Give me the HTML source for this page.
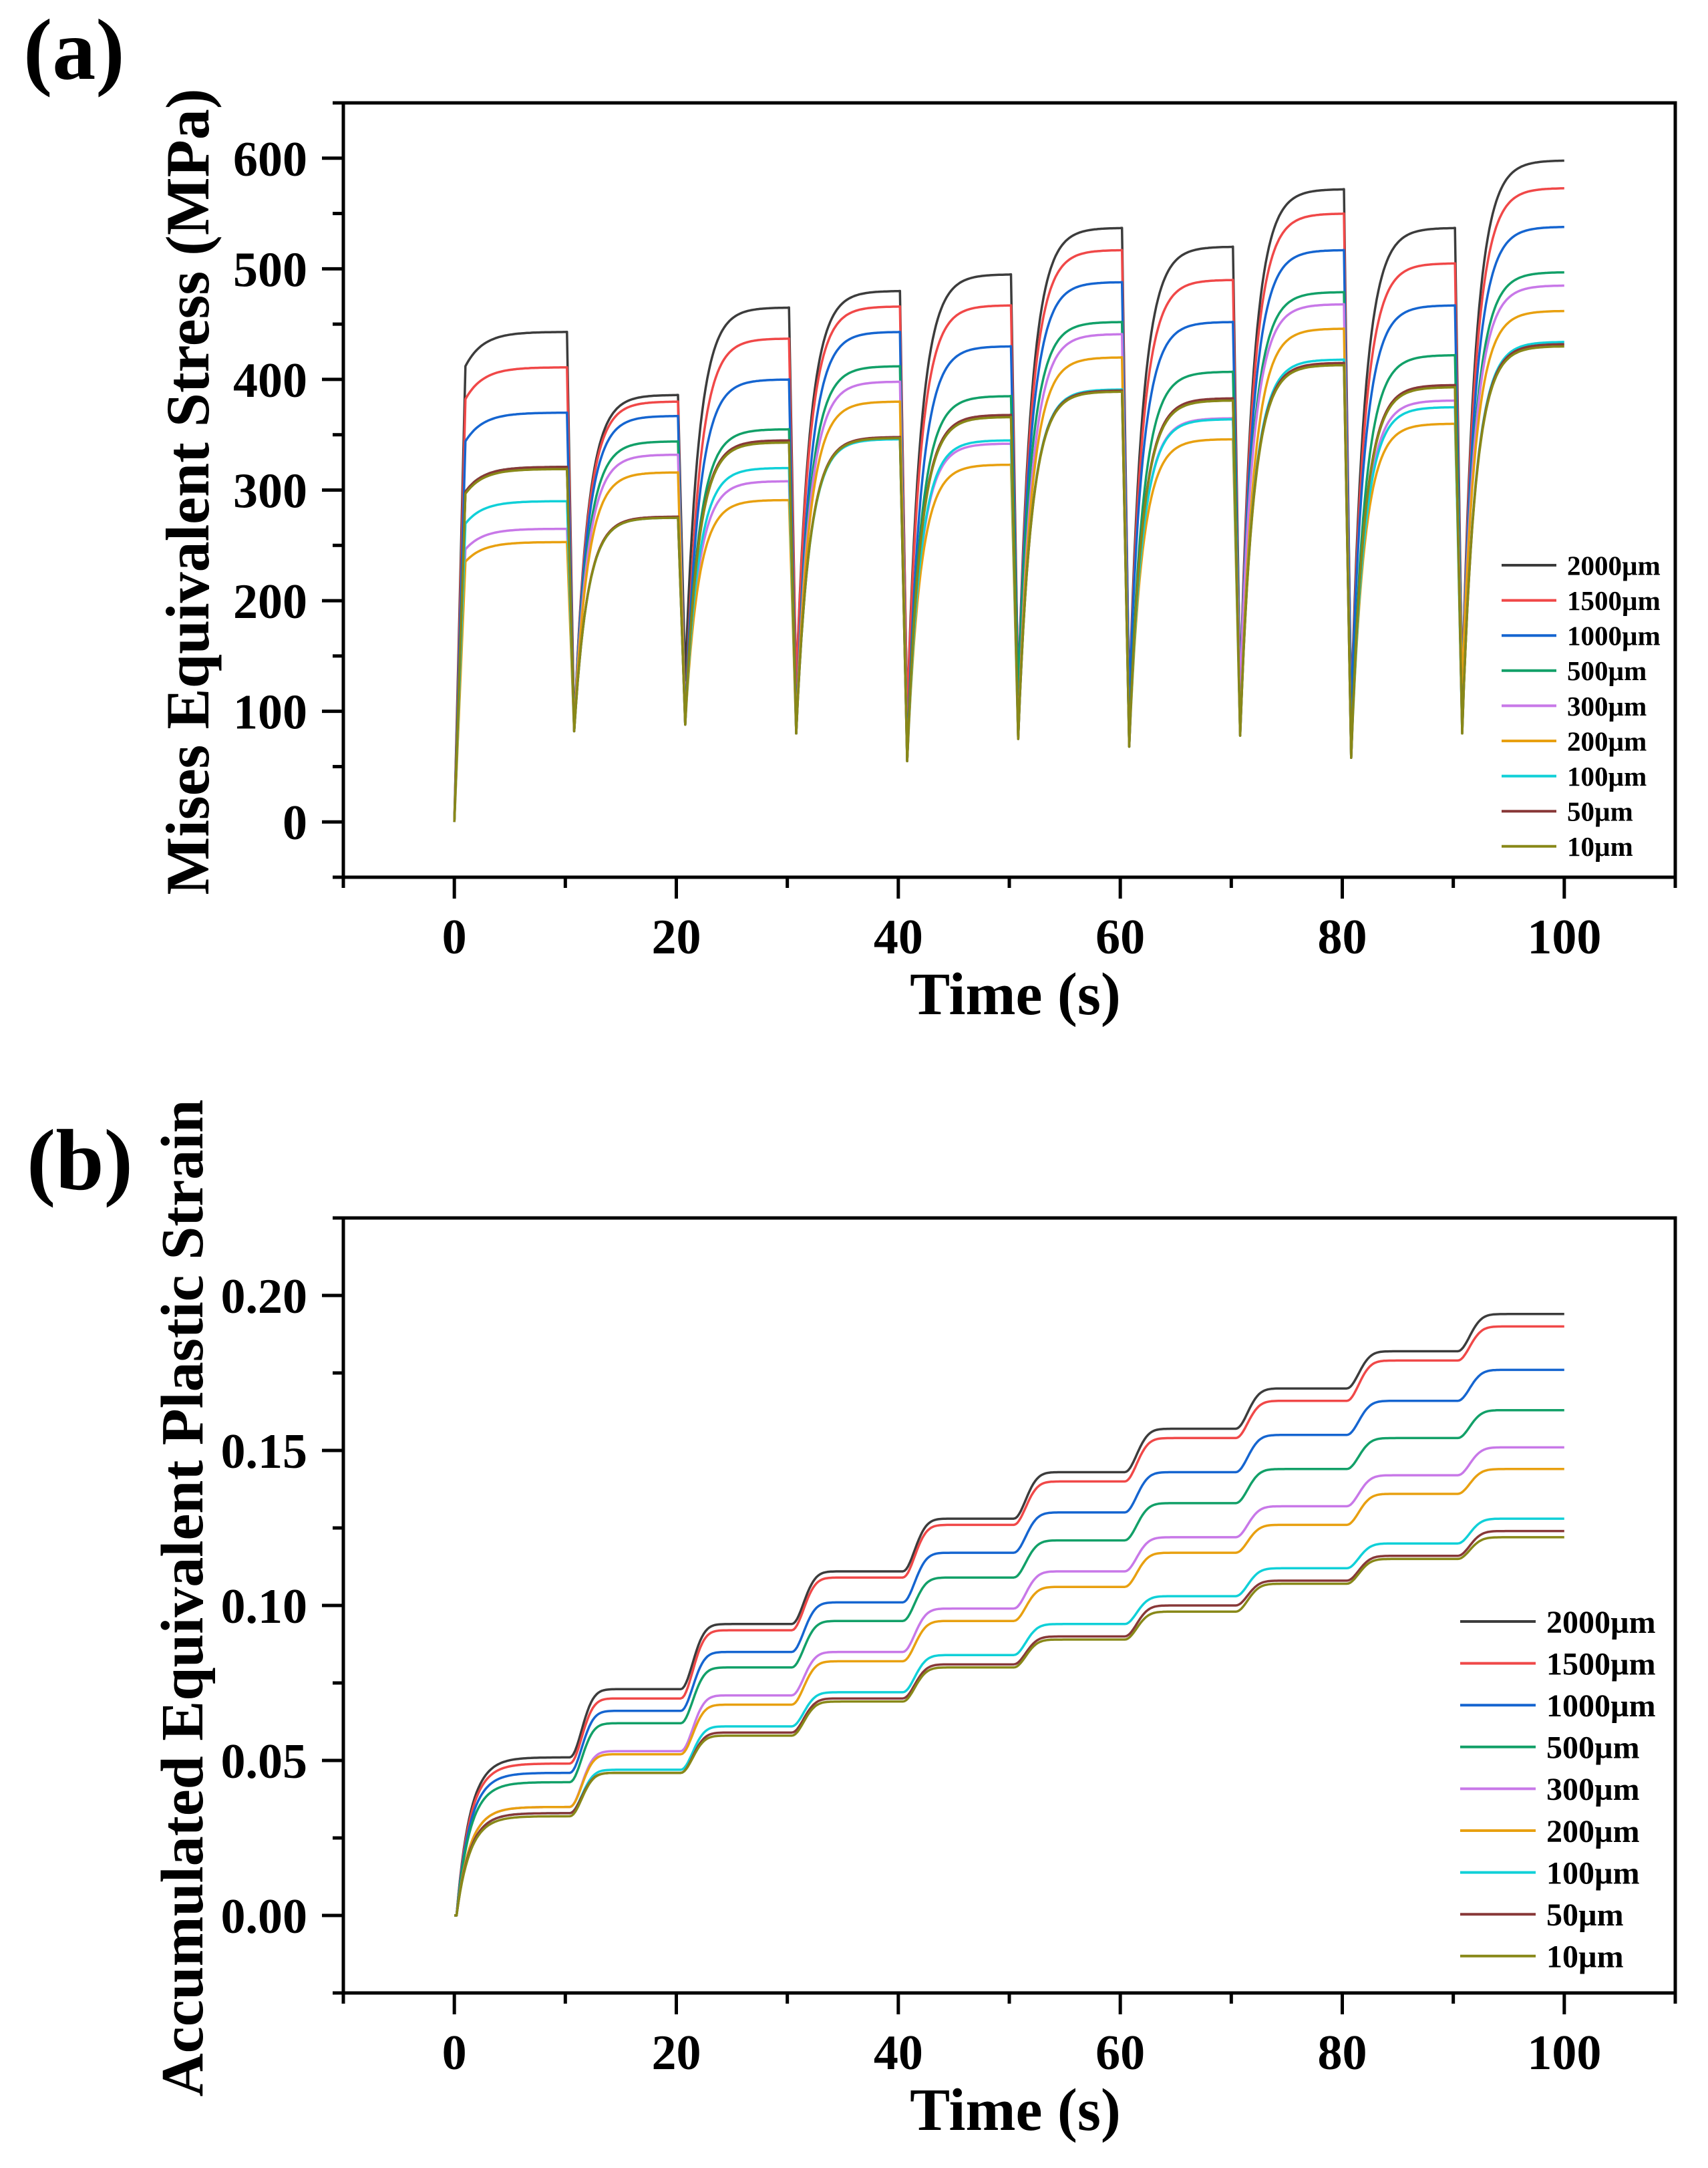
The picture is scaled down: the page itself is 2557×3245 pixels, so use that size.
<!DOCTYPE html>
<html><head><meta charset="utf-8"><style>
html,body{margin:0;padding:0;background:#fff}
svg{display:block}
text{font-family:"Liberation Serif",serif;font-weight:bold;fill:#000}
</style></head><body>
<svg id="fig" width="2557" height="3245" viewBox="0 0 2557 3245" xmlns="http://www.w3.org/2000/svg">
<rect width="2557" height="3245" fill="#fff"/>
<text x="35" y="118" font-size="130">(a)</text>
<text x="40" y="1780" font-size="130">(b)</text>
<g id="ga"></g>
<g id="gb"></g>
</svg>
<script>
const seriesNames = ["2000µm","1500µm","1000µm","500µm","300µm","200µm","100µm","50µm","10µm"];
const seriesColors = ["#3c3c3c","#f04848","#1565d0","#12a068","#c878e8","#e8a010","#10d0d8","#883838","#888818"];
// Chart (a): plateau stress per cycle (MPa)
const stressPeak2000 = [443,386,465,480,495,537,520,572,537,598];
const stressPeak1500 = [411,380,437,466,467,517,490,550,505,573];
const stressPeak1000 = [370,367,400,443,430,488,452,517,467,538];
const stressPeak500  = [321,344,355,412,385,452,407,479,422,497];
const stressPeak300  = [265,332,308,398,342,441,365,468,381,485];
const stressPeak200  = [253,316,291,380,323,420,346,446,360,462];
const stressPeak100  = [290,275,320,346,345,391,364,418,375,434];
const stressPeak50   = [321,276,345,348,368,390,383,415,395,432];
const stressPeak10   = [319,275,343,347,366,389,381,413,393,430];
const stressMin = [0,82,88,80,55,75,68,78,58,80];
// Chart (b): plateau strain per cycle
const strain2000 = [0.051,0.073,0.094,0.111,0.128,0.143,0.157,0.170,0.182,0.194];
const strain1500 = [0.049,0.070,0.092,0.109,0.126,0.140,0.154,0.166,0.179,0.190];
const strain1000 = [0.046,0.066,0.085,0.101,0.117,0.130,0.143,0.155,0.166,0.176];
const strain500  = [0.043,0.062,0.080,0.095,0.109,0.121,0.133,0.144,0.154,0.163];
const strain300  = [0.035,0.053,0.071,0.085,0.099,0.111,0.122,0.132,0.142,0.151];
const strain200  = [0.035,0.052,0.068,0.082,0.095,0.106,0.117,0.126,0.136,0.144];
const strain100  = [0.033,0.047,0.061,0.072,0.084,0.094,0.103,0.112,0.120,0.128];
const strain50   = [0.033,0.046,0.059,0.070,0.081,0.090,0.100,0.108,0.116,0.124];
const strain10   = [0.032,0.046,0.058,0.069,0.080,0.089,0.098,0.107,0.115,0.122];
const xTicks = [0,20,40,60,80,100];
const yTicksA = [0,100,200,300,400,500,600];
const yTicksB = ["0.00","0.05","0.10","0.15","0.20"];

const stressAll=[stressPeak2000,stressPeak1500,stressPeak1000,stressPeak500,stressPeak300,stressPeak200,stressPeak100,stressPeak50,stressPeak10];
const strainAll=[strain2000,strain1500,strain1000,strain500,strain300,strain200,strain100,strain50,strain10];
const NS="http://www.w3.org/2000/svg";
function mk(p,tag,attrs){const e=document.createElementNS(NS,tag);for(const k in attrs)e.setAttribute(k,attrs[k]);p.appendChild(e);return e;}

function chart(g,cfg){
  const L=514,R=2508,T=cfg.T,B=cfg.B;
  const sx=v=>L+(v-(-10))/120*(R-L);
  const sy=v=>B-(v-cfg.ymin)/(cfg.ymax-cfg.ymin)*(B-T);
  cfg.series.forEach((arr,i)=>{
    const d=cfg.path(arr,i).map((p,j)=>(j?"L":"M")+sx(p[0]).toFixed(1)+" "+sy(p[1]).toFixed(1)).join("");
    const pe=mk(g,"path",{d:d,fill:"none",stroke:seriesColors[i],"stroke-width":3.5,"stroke-linejoin":"round"});
    
    
  });
  const fr=mk(g,"rect",{x:L,y:T,width:R-L,height:B-T,fill:"none",stroke:"#000","stroke-width":5});
  
  
  for(let v=-10;v<=110;v+=10){
    const major=(v%20===0);
    const t=mk(g,"line",{x1:sx(v),x2:sx(v),y1:B,y2:B+(major?32:16),stroke:"#000","stroke-width":5});
    
    
  }
  xTicks.forEach(v=>{
    const t=mk(g,"text",{x:sx(v),y:B+114,"font-size":74,"text-anchor":"middle"});t.textContent=v;
    
    
  });
  cfg.minor.forEach(v=>{
    const t=mk(g,"line",{x1:L,x2:L-16,y1:sy(v),y2:sy(v),stroke:"#000","stroke-width":5});
    
    
  });
  cfg.yt.forEach(s=>{
    const v=parseFloat(s);
    const t=mk(g,"line",{x1:L,x2:L-32,y1:sy(v),y2:sy(v),stroke:"#000","stroke-width":5});
    
    
    const tx=mk(g,"text",{x:460,y:sy(v)+26,"font-size":74,"text-anchor":"end"});tx.textContent=s;
    
    
  });
  const xt=mk(g,"text",{x:1520,y:B+205,"font-size":90,"text-anchor":"middle"});xt.textContent="Time (s)";
  
  
  const yt=mk(g,"text",{x:0,y:0,"font-size":cfg.ytfs,"text-anchor":"middle",transform:`translate(${cfg.ytx},${cfg.yty}) rotate(-90)`});yt.textContent=cfg.ytitle;
  
  
  seriesNames.forEach((n,i)=>{
    const y=cfg.legY+i*cfg.legDy;
    const ln=mk(g,"line",{x1:cfg.legX,x2:cfg.legX+cfg.legW,y1:y,y2:y,stroke:seriesColors[i],"stroke-width":4});
    
    
    const tx=mk(g,"text",{x:cfg.legX+cfg.legW+16,y:y+cfg.legFs*0.35,"font-size":cfg.legFs});tx.textContent=n;
    
    
  });
}

function stressPath(arr){
  const pts=[];
  for(let k=0;k<10;k++){
    const t0=10*k, pk=arr[k];
    if(k===0){
      pts.push([0,0]);
      const knee=0.93*pk;
      pts.push([1.0,knee]);
      for(let s=0;s<=60;s++){
        const t=1+s*9/60;
        pts.push([t,pk-(pk-knee)*Math.exp(-(t-1)/1.6)]);
      }
      continue;
    }
    const start=stressMin[k]+(pk>450?40:0);
    const tmin=t0+0.8, tau=1.2;
    pts.push([t0+0.15,arr[k-1]]);
    for(let s=0;s<=60;s++){
      const t=tmin+s*(t0+10-tmin)/60;
      pts.push([t,pk-(pk-start)*Math.exp(-(t-tmin)/tau)]);
    }
  }
  return pts;
}
function strainPath(arr){
  const pts=[[0,0],[0.2,0]];
  let prev=0;
  for(let k=0;k<10;k++){
    const t0=10*k+(k===0?0.2:0.4), tau=k===0?1.2:1.5;
    if(k>0)pts.push([t0,prev]);
    for(let s=0;s<=60;s++){
      const t=t0+s*(10*k+10-t0)/60;
      const f=k===0?1-Math.exp(-(t-t0)/tau):(1-Math.exp(-Math.pow((t-t0)/tau,2)));
      pts.push([t,prev+(arr[k]-prev)*f]);
    }
    prev=arr[k];
  }
  return pts;
}

chart(document.getElementById("ga"),{T:154,B:1313,ymin:-50,ymax:650,series:stressAll,path:stressPath,
  yt:yTicksA.map(String),minor:[-50,50,150,250,350,450,550,650],
  ytitle:"Mises Equivalent Stress (MPa)",ytfs:92,ytx:312,yty:736,
  legX:2248,legW:82,legY:846,legDy:52.6,legFs:41});
chart(document.getElementById("gb"),{T:1823,B:2983,ymin:-0.025,ymax:0.225,series:strainAll,path:strainPath,
  yt:yTicksB,minor:[-0.025,0.025,0.075,0.125,0.175,0.225],
  ytitle:"Accumulated Equivalent Plastic Strain",ytfs:90,ytx:303,yty:2392,
  legX:2186,legW:113,legY:2427,legDy:62.6,legFs:48});
</script>
</body></html>
